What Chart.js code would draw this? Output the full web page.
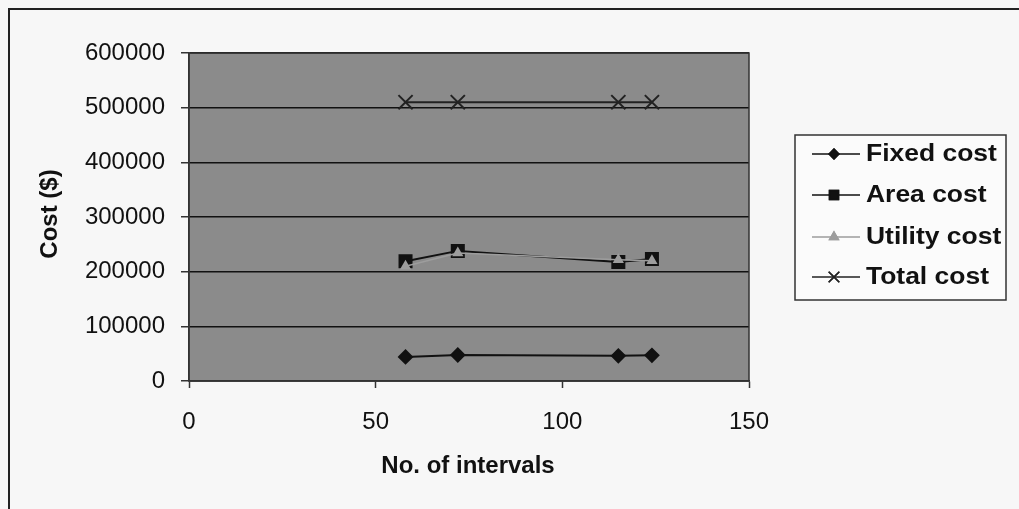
<!DOCTYPE html>
<html>
<head>
<meta charset="utf-8">
<script src="https://cdn.jsdelivr.net/npm/chart.js@4/dist/chart.umd.min.js"></script>
<style>
  html, body { margin: 0; padding: 0; background: #f7f7f7; }
  #wrap { position: relative; width: 1019px; height: 509px; }
</style>
</head>
<body>
<div id="wrap"><canvas id="costChart" width="1019" height="509"></canvas></div>
<script>
const intervals = [58, 72, 115, 124];
const fixedCost = [44000, 47500, 46000, 47000];
const areaCost = [219000, 238000, 217500, 223000];
const utilityCost = [210000, 234000, 222000, 220000];
const totalCost = [510000, 510000, 510000, 510000];

const xTicks = [0, 50, 100, 150];
const yTicks = [0, 100000, 200000, 300000, 400000, 500000, 600000];

const FONT = "'Liberation Sans', Arial, sans-serif";

function points(values) {
  return intervals.map((x, i) => ({ x, y: values[i] }));
}

// utility is drawn last so its pale marks sit over the area series
const series = [
  { label: "Fixed cost", data: fixedCost, color: "#111", style: "rectRot", radius: 6.5, width: 2, order: 1 },
  { label: "Area cost", data: areaCost, color: "#111", style: "rect", radius: 8.5, width: 2, order: 2 },
  { label: "Utility cost", data: utilityCost, color: "#9d9d9d", style: "triangle", radius: 4.5, width: 1.5, order: 0 },
  { label: "Total cost", data: totalCost, color: "#222", style: "crossRot", radius: 10, width: 2, order: 3 },
];

// plot background, frame, titles and the boxed legend on the right
const decorations = {
  id: "decorations",
  beforeDraw(chart) {
    const { ctx, chartArea: a } = chart;
    ctx.save();
    ctx.fillStyle = "#8b8b8b";
    ctx.fillRect(a.left, a.top, a.right - a.left, a.bottom - a.top);
    ctx.restore();
  },
  afterDraw(chart) {
    const { ctx, chartArea: a } = chart;
    ctx.save();

    // outer frame
    ctx.strokeStyle = "#222";
    ctx.lineWidth = 2;
    ctx.beginPath();
    ctx.moveTo(9, 509);
    ctx.lineTo(9, 9);
    ctx.lineTo(1019, 9);
    ctx.stroke();

    // plot frame
    ctx.lineWidth = 1.5;
    ctx.strokeStyle = "#333";
    ctx.strokeRect(a.left, a.top, a.right - a.left, a.bottom - a.top);

    // axis titles
    ctx.fillStyle = "#111";
    ctx.font = "bold 24px " + FONT;
    ctx.textAlign = "center";
    ctx.textBaseline = "middle";
    ctx.fillText("No. of intervals", 468, 466);
    ctx.save();
    ctx.translate(50, 214);
    ctx.rotate(-Math.PI / 2);
    ctx.fillText("Cost ($)", 0, 0);
    ctx.restore();

    // legend box
    const box = { x: 795, y: 135, w: 211, h: 165 };
    ctx.fillStyle = "#fbfbfb";
    ctx.fillRect(box.x, box.y, box.w, box.h);
    ctx.strokeStyle = "#333";
    ctx.lineWidth = 1.5;
    ctx.strokeRect(box.x, box.y, box.w, box.h);

    const rows = [154, 195, 237, 277];
    series.forEach((s, i) => {
      const y = rows[i];
      ctx.strokeStyle = s.color;
      ctx.lineWidth = 1.5;
      ctx.beginPath();
      ctx.moveTo(812, y);
      ctx.lineTo(860, y);
      ctx.stroke();
      Chart.helpers.drawPoint(ctx, {
        pointStyle: s.style,
        radius: s.style === "triangle" ? 5 : s.radius * 0.75,
        rotation: 0,
        borderWidth: 1.5,
      }, 834, y);
      ctx.fillStyle = s.color;
      ctx.strokeStyle = s.color;
      ctx.fill();
      ctx.stroke();

      ctx.save();
      ctx.translate(866, y);
      ctx.scale(1.15, 1);
      ctx.fillStyle = "#111";
      ctx.font = "bold 23px " + FONT;
      ctx.textAlign = "left";
      ctx.textBaseline = "middle";
      ctx.fillText(s.label, 0, 1);
      ctx.restore();
    });

    ctx.restore();
  },
};

new Chart(document.getElementById("costChart"), {
  type: "scatter",
  data: {
    datasets: series.map((s) => ({
      label: s.label,
      data: points(s.data),
      order: s.order,
      showLine: true,
      borderColor: s.color,
      backgroundColor: s.color,
      borderWidth: s.width,
      pointStyle: s.style,
      pointRadius: s.radius,
      pointBorderWidth: 2,
      pointBorderColor: s.color,
      pointBackgroundColor: s.color,
      tension: 0,
    })),
  },
  options: {
    responsive: false,
    animation: false,
    layout: { padding: { left: 0, top: 53, right: 270, bottom: 0 } },
    plugins: {
      legend: { display: false },
      tooltip: { enabled: false },
    },
    scales: {
      x: {
        type: "linear",
        min: 0,
        max: 150,
        afterFit(scale) { scale.height = 128; },
        afterBuildTicks(scale) { scale.ticks = xTicks.map((v) => ({ value: v })); },
        grid: { display: true, drawOnChartArea: false, drawTicks: true, tickLength: 7, color: "#333", tickWidth: 1.5 },
        border: { display: true, color: "#333", width: 1.5 },
        ticks: {
          padding: 20,
          color: "#111",
          font: { family: FONT, size: 24 },
          maxRotation: 0,
        },
      },
      y: {
        type: "linear",
        min: 0,
        max: 600000,
        afterFit(scale) { scale.width = 189; },
        afterBuildTicks(scale) { scale.ticks = yTicks.map((v) => ({ value: v })); },
        grid: { color: "#111", lineWidth: 1.5, drawTicks: true, tickLength: 8, tickColor: "#333", tickWidth: 1.5 },
        border: { display: true, color: "#333", width: 1.5 },
        ticks: {
          padding: 16,
          color: "#111",
          font: { family: FONT, size: 24 },
          callback: (v) => String(v),
        },
      },
    },
  },
  plugins: [decorations],
});
</script>
</body>
</html>
